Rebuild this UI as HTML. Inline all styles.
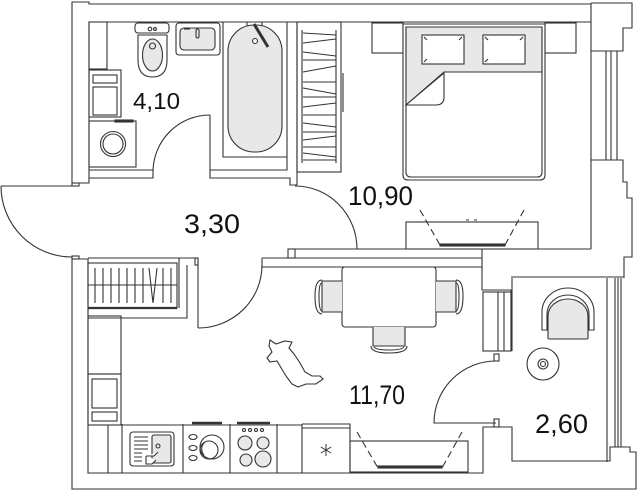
<!DOCTYPE html>
<html><head><meta charset="utf-8"><style>
html,body{margin:0;padding:0;background:#fff;}
svg{display:block;}
text{font-family:"Liberation Sans",sans-serif;fill:#111;stroke:none;}
</style></head><body>
<svg width="640" height="491" viewBox="0 0 640 491" xmlns="http://www.w3.org/2000/svg">
<rect width="640" height="491" fill="#fff"/>
<g fill="none" stroke="#333" stroke-width="1.1">
<!-- outer top / left walls -->
<path d="M72,183 V2 H89 V4 H591"/>
<path d="M591,3 H632 V28 H623 V51 H591"/>
<line x1="89" y1="22" x2="591" y2="22"/>
<line x1="591" y1="3" x2="591" y2="249"/>
<path d="M606,51 V160 M611,51 V160 M617,51 V160"/>
<path d="M591,160 H623 V182 H627 V198 H632 V257 H624 V278"/>
<path d="M89,22 V183 H72"/>
<rect x="72" y="183" width="7" height="3"/>
<!-- bathroom bottom wall -->
<path d="M89,170 H153 V178 H89"/>
<path d="M210,115 V178 H290 V185 H297"/>
<path d="M210,170 H287 V22"/>
<path d="M297,22 V185"/>
<!-- entrance -->
<rect x="72" y="256" width="7" height="3"/>
<path d="M1,186 H72"/>
<path d="M1,186 A71,71 0 0 0 72,257"/>
<!-- bathroom door -->
<path d="M210,115 A57,57 0 0 0 153,172"/>
<!-- bedroom door -->
<path d="M295,186 A62,63 0 0 1 357,249"/>
<!-- kitchen / living outer -->
<path d="M72,258 V489 H636 V452 H630 V447 H610 V461 H512 V427 H483 V473 H88 V259 H72"/>
<!-- bedroom bottom / living top -->
<path d="M288,249 H591"/>
<rect x="288" y="249" width="7" height="9"/>
<path d="M262,258 H482 M262,267 H482 M262,258 V267"/>
<path d="M482,249 V290 H511 V351"/>
<path d="M511,277 H624"/>
<path d="M512,278 V351"/>
<path d="M607,278 V462"/>
<path d="M615,278 V447 M618,278 V447 M621,278 V447"/>
<!-- hall wall piece + living door -->
<path d="M179,308 V258 H195"/>
<rect x="195" y="258" width="3" height="7"/>
<path d="M187,265 V318 H88"/>
<path d="M198,260 V328"/>
<path d="M262,265 A64,63 0 0 1 198,328"/>
<!-- balcony door -->
<path d="M496,361 A62,62 0 0 0 434,423 H496"/>
<rect x="494" y="354" width="5" height="7"/>
<rect x="494" y="419" width="5" height="8"/>
<!-- living wardrobe by balcony -->
<rect x="483" y="292" width="28" height="59"/>
<path d="M498,292 V351 M504,292 V351"/>

<!-- ===== BATHROOM ===== -->
<rect x="89" y="22" width="18" height="47"/>
<rect x="89" y="70" width="32" height="47"/>
<rect x="93" y="75" width="24" height="8"/>
<rect x="93" y="87" width="24" height="28"/>
<rect x="89" y="121" width="47" height="46"/>
<rect x="115" y="120" width="18" height="2"/>
<circle cx="113" cy="144" r="12.5"/>
<circle cx="113" cy="144" r="10"/>
<!-- toilet -->
<rect x="135" y="23" width="34" height="10" rx="3"/>
<circle cx="150" cy="29" r="1.8"/><circle cx="155" cy="29" r="1.4"/>
<path d="M138,35 H167 V60 Q167,77 152.5,77 Q138,77 138,60 Z"/>
<ellipse cx="152.5" cy="55" rx="10" ry="16" fill="#e8e8e8"/>
<circle cx="152.5" cy="46" r="3"/>
<!-- sink -->
<rect x="176" y="23" width="44" height="32" rx="3"/>
<rect x="180" y="28" width="35" height="22" rx="4" fill="#e8e8e8"/>
<path d="M184,29 H190"/>
<rect x="196" y="29" width="3" height="9" rx="1.5"/>
<!-- bath -->
<path d="M223,22 V157 H287"/>
<rect x="228" y="25" width="54" height="127" rx="26" fill="#e8e8e8"/>
<path d="M254,24 L268,47" stroke-width="3"/>
<circle cx="255" cy="41" r="2.5" fill="#fff"/>
<path d="M247,22 V26 M262,22 V26"/>

<!-- ===== BEDROOM ===== -->
<rect x="297" y="22" width="44" height="150"/>
<path d="M302,30 V163 M336,30 V163"/>
<path d="M343,73 V112"/>
<g stroke-width="1">
<path d="M303,33 L336,35 M303,43 L336,39 M303,52 L336,56 M303,60 L336,60 M303,72 L336,66 M303,82 L336,82 M303,88 L336,94 M303,97 L336,97 M303,107 L336,103 M303,115 L336,115 M303,123 L336,127 M303,132 L336,132 M303,140 L336,136 M303,147 L336,147 M303,153 L336,157 M303,160 L336,160"/>
</g>
<!-- bedside tables -->
<rect x="372" y="23" width="31" height="30"/>
<rect x="545" y="23" width="31" height="30"/>
<!-- bed -->
<path d="M403,24 H545 V175 Q545,180 540,180 H408 Q403,180 403,175 Z" fill="#fff"/>
<path d="M406,27 H542 V172 Q542,177 537,177 H411 Q406,177 406,172 Z"/>
<path d="M406,27 H542 V72 H444 L406,105 Z" fill="#e8e8e8"/>
<path d="M406,105 L444,73 V97 Q444,105 436,105 Z" fill="#fff"/>
<rect x="422" y="35" width="42" height="29" fill="#fff"/>
<rect x="483" y="35" width="42" height="29" fill="#fff"/>
<path d="M424,37 l3,3 M462,37 l-3,3 M424,62 l3,-3 M485,37 l3,3 M523,37 l-3,3 M485,62 l3,-3"/>
<!-- bedroom TV -->
<rect x="406" y="222" width="132" height="27"/>
<path d="M420,210 L440,245 M524,210 L505,245" stroke-dasharray="7,4"/>
<rect x="440" y="244" width="65" height="2" fill="#333"/>
<path d="M466,220 h3 M474,220 h3"/>

<!-- ===== LIVING ===== -->
<rect x="342" y="267" width="94" height="60" rx="3" fill="#fff"/>
<path d="M342,281 H322 V312 H342" fill="#e8e8e8"/>
<path d="M322,280 Q315,280 315,296 Q315,314 322,314"/>
<path d="M322,283 Q319,283 319,296 Q319,311 322,311"/>
<path d="M436,281 H456 V312 H436" fill="#e8e8e8"/>
<path d="M456,280 Q463,280 463,296 Q463,314 456,314"/>
<path d="M456,283 Q459,283 459,296 Q459,311 456,311"/>
<path d="M373,327 V346 H405 V327" fill="#e8e8e8"/>
<path d="M371,346 Q371,353 389,353 Q407,353 407,346"/>
<path d="M374,347 Q376,350 389,350 Q402,350 404,347"/>
<!-- dog -->
<path d="M270,340 L276,344 L285,341 L292,342 L289,348 L294,354 L300,363 L305,372 L312,376 L320,376 L323,379 L316,384 L306,384 L298,387 L292,384 L286,376 L280,366 L277,361 L270,362 L267,358 L272,352 L269,346 Z" fill="#fff"/>
<!-- living TV -->
<rect x="350" y="441" width="118" height="31"/>
<path d="M357,432 L378,468 M462,432 L442,468" stroke-dasharray="7,4"/>
<rect x="378" y="466" width="64" height="2" fill="#333"/>

<!-- ===== BALCONY ===== -->
<path d="M542,330 V312 A26,24 0 0 1 594,312 V330 H589 V314 A21,19 0 0 0 547,314 V330 Z" fill="#fff"/>
<path d="M548,338 V316 A20,17 0 0 1 588,316 V338 Q588,339 586,339 H550 Q548,339 548,338 Z" fill="#e8e8e8"/>
<circle cx="543" cy="364" r="16"/>
<circle cx="543" cy="364" r="5"/>
<circle cx="543" cy="364" r="2.5"/>

<!-- ===== KITCHEN ===== -->
<rect x="88" y="316" width="33" height="58"/>
<rect x="88" y="374" width="33" height="51"/>
<rect x="92" y="379" width="25" height="29"/>
<rect x="92" y="412" width="25" height="9"/>
<path d="M88,425 H302 M108,425 V473 M122,424 V473 M183,424 V473 M230,424 V473 M277,424 V473 M302,424 V473"/>
<path d="M302,424 H350 V473 M302,428 H350"/>
<path d="M192,423 H222 M237,423 H270" stroke-width="2.5"/>
<!-- asterisk -->
<path d="M326,444 V456 M320.8,447 L331.2,453 M320.8,453 L331.2,447" stroke-width="1"/>
<!-- sink -->
<rect x="130" y="432" width="44" height="34" rx="3"/>
<rect x="152" y="435" width="19" height="28" rx="2" fill="#e8e8e8"/>
<path d="M134,437 H148 M134,441 H148 M134,445 H148 M134,449 H148 M134,453 H142 M134,457 H142 M134,461 H142"/>
<circle cx="158" cy="446" r="2"/>
<path d="M146,456 H154 L158,452 M146,456 V464 H152 L156,460" fill="#fff"/>
<!-- dishwasher / plates -->
<circle cx="212" cy="447" r="12"/>
<circle cx="209" cy="450" r="9"/>
<path d="M204,455 A9,9 0 0 1 205,442"/>
<ellipse cx="193" cy="437" rx="4" ry="2.5"/>
<ellipse cx="193" cy="448" rx="4" ry="2.5"/>
<ellipse cx="193" cy="458" rx="4" ry="2.5"/>
<!-- stove -->
<circle cx="244" cy="430" r="1.5"/><circle cx="250" cy="430" r="1.5"/><circle cx="256" cy="430" r="1.5"/><circle cx="262" cy="430" r="1.5"/>
<circle cx="245" cy="443" r="7" fill="#e8e8e8"/>
<circle cx="263" cy="443" r="6" fill="#e8e8e8"/>
<circle cx="246" cy="460" r="6" fill="#e8e8e8"/>
<circle cx="263" cy="459" r="8" fill="#e8e8e8"/>
<!-- kitchen wardrobe -->
<rect x="88" y="263" width="89" height="45"/>
<path d="M88,308 H177" stroke-width="2.2"/>
<path d="M88,285 H177"/>
<path d="M95,268 V303 M103,268 V303 M111,268 V303 M119,268 V303 M127,268 V303 M135,268 V303 M143,268 V303 M149,268 L153,303 L157,268 M163,268 V303 M171,268 V303"/>
<path d="M179,258 H88"/>
</g>
<text x="133" y="109" font-size="23" textLength="47" lengthAdjust="spacingAndGlyphs">4,10</text>
<text x="184" y="233" font-size="27" textLength="56" lengthAdjust="spacingAndGlyphs">3,30</text>
<text x="348" y="205" font-size="27" textLength="65" lengthAdjust="spacingAndGlyphs">10,90</text>
<text x="349" y="404" font-size="27" textLength="56" lengthAdjust="spacingAndGlyphs">11,70</text>
<text x="535" y="433" font-size="27" textLength="53" lengthAdjust="spacingAndGlyphs">2,60</text>
</svg>
</body></html>
